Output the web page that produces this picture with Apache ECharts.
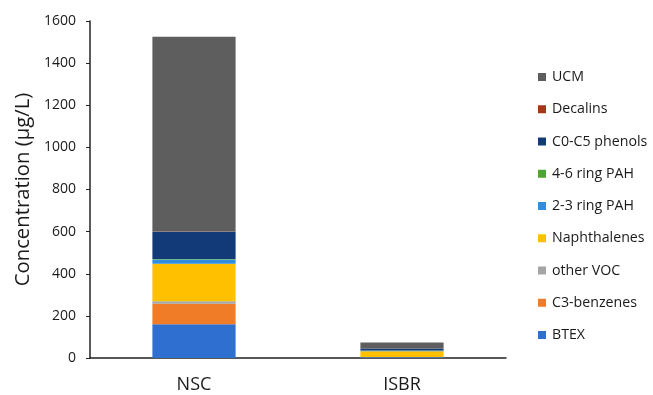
<!DOCTYPE html>
<html>
<head>
<meta charset="utf-8">
<script src="https://cdn.jsdelivr.net/npm/echarts@6/dist/echarts.min.js"></script>
<style>
  html, body { margin: 0; padding: 0; background: #fff; }
  #chart { width: 653px; height: 395px; }
</style>
</head>
<body>
<div id="chart"></div>
<script>
// Sites on the x axis
const sites = ['NSC', 'ISBR'];

// Compound groups, stacked bottom to top (µg/L)
const btex        = [160, 3];
const c3Benzenes  = [98, 1];
const otherVoc    = [11, 1];
const naphthalene = [179, 27];
const pah23       = [20, 3];
const pah46       = [2, 0.5];
const phenols     = [130, 8];
const decalins    = [1, 0.5];
const ucm         = [924, 29];

const yTicks = [0, 200, 400, 600, 800, 1000, 1200, 1400, 1600];

const groups = [
  { name: 'BTEX',            data: btex,        color: '#2e6fcf' },
  { name: 'C3-benzenes',     data: c3Benzenes,  color: '#f07c28' },
  { name: 'other VOC',       data: otherVoc,    color: '#a5a5a5' },
  { name: 'Naphthalenes',    data: naphthalene, color: '#ffc000' },
  { name: '2-3 ring PAH',    data: pah23,       color: '#2f8ee0' },
  { name: '4-6 ring PAH',    data: pah46,       color: '#4fa62f' },
  { name: 'C0-C5 phenols',   data: phenols,     color: '#133a78' },
  { name: 'Decalins',        data: decalins,    color: '#a23a12' },
  { name: 'UCM',             data: ucm,         color: '#5e5e5e' }
];

const font = '"Open Sans", "Noto Sans", sans-serif';

const chart = echarts.init(document.getElementById('chart'), null, { renderer: 'canvas' });
chart.setOption({
  animation: false,
  backgroundColor: '#ffffff',
  grid: { left: 90, right: 147, top: 21, bottom: 37, containLabel: false },
  legend: {
    orient: 'vertical',
    left: 533,
    top: 65,
    itemWidth: 8,
    itemHeight: 8,
    itemGap: 18.25,
    icon: 'rect',
    data: groups.map(g => g.name).reverse(),
    textStyle: { fontFamily: font, fontSize: 14.2, color: '#1a1a1a', padding: [0, 0, 0, 1] }
  },
  xAxis: {
    type: 'category',
    data: sites,
    axisLine: { lineStyle: { color: '#222', width: 1.5 } },
    axisTick: { show: false },
    axisLabel: { fontFamily: font, fontSize: 18, color: '#1a1a1a', margin: 18 }
  },
  yAxis: {
    type: 'value',
    min: yTicks[0],
    max: yTicks[yTicks.length - 1],
    interval: 200,
    name: 'Concentration (μg/L)',
    nameLocation: 'middle',
    nameGap: 57,
    nameTextStyle: { fontFamily: font, fontSize: 20.3, color: '#1a1a1a' },
    axisLine: { show: true, lineStyle: { color: '#222', width: 1.5 } },
    axisTick: { show: true, inside: false, length: 4, lineStyle: { color: '#222' } },
    axisLabel: { fontFamily: font, fontSize: 14, color: '#1a1a1a', margin: 14, formatter: v => String(v) },
    splitLine: { show: false }
  },
  series: groups.map(g => ({
    name: g.name,
    type: 'bar',
    stack: 'total',
    barWidth: '40%',
    data: g.data,
    itemStyle: { color: g.color }
  }))
});
</script>
</body>
</html>
